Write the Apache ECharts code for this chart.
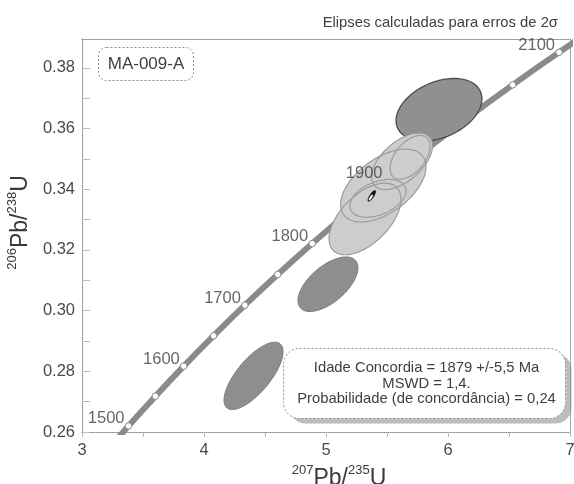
<!DOCTYPE html>
<html>
<head>
<meta charset="utf-8">
<script src="https://cdn.jsdelivr.net/npm/echarts@6/dist/echarts.min.js"></script>
<style>
  html, body { margin: 0; padding: 0; background: #fff; }
  #chart { width: 574px; height: 484px; }
</style>
</head>
<body>
<div id="chart"></div>
<script>
// Concordia curve: age (Ma) and ratio pairs, 50 Ma apart
const concAges = [1450, 1500, 1550, 1600, 1650, 1700, 1750, 1800, 1850, 1900, 1950, 2000, 2050, 2100, 2150];
const concX = [3.170, 3.381, 3.602, 3.834, 4.078, 4.335, 4.604, 4.887, 5.184, 5.496, 5.824, 6.169, 6.530, 6.910, 7.310];
const concY = [0.2522, 0.2620, 0.2718, 0.2817, 0.2917, 0.3018, 0.3119, 0.3221, 0.3324, 0.3428, 0.3532, 0.3638, 0.3744, 0.3851, 0.3959];
const labelledAges = [1500, 1600, 1700, 1800, 1900, 2100];

// Analyses: 207Pb/235U, 2s, 206Pb/238U, 2s, error correlation, tone
const ellX   = [4.406, 5.016, 5.926, 5.320, 5.470, 5.426, 5.623, 5.689];
const ellSx  = [0.242, 0.246, 0.352, 0.295, 0.350, 0.230, 0.250, 0.164];
const ellY   = [0.2785, 0.3087, 0.3662, 0.3302, 0.3412, 0.3370, 0.3492, 0.3505];
const ellSy  = [0.0111, 0.0090, 0.0103, 0.0118, 0.0120, 0.00623, 0.00930, 0.00721];
const ellRho = [0.72, 0.60, 0.35, 0.55, 0.52, 0.40, 0.55, 0.50];
const ellTone = ['dark', 'dark', 'darkEdge', 'light', 'light', 'light', 'light', 'light'];

// Concordia age ellipse
const ageX = 5.375, ageSx = 0.032, ageY = 0.3378, ageSy = 0.0018, ageRho = 0.8;

const xTicks = [3, 3.5, 4, 4.5, 5, 5.5, 6, 6.5, 7];
const xLabels = [3, 4, 5, 6, 7];
const yTicks = [0.26, 0.27, 0.28, 0.29, 0.30, 0.31, 0.32, 0.33, 0.34, 0.35, 0.36, 0.37, 0.38];
const yLabels = [0.26, 0.28, 0.30, 0.32, 0.34, 0.36, 0.38];

const resultLines = [
  'Idade Concordia = 1879 +/-5,5 Ma',
  'MSWD = 1,4.',
  'Probabilidade (de concordância) = 0,24'
];

const FONT = '"Liberation Sans", Arial, sans-serif';
const tones = {
  dark:     { fill: '#8e8e8e', stroke: '#7a7a7a', width: 1 },
  darkEdge: { fill: '#909090', stroke: '#4e4e4e', width: 1.3 },
  light:    { fill: '#cdcdcd', stroke: '#9b9b9b', width: 1.2 }
};

function ellipsePoints(api, cx, sx, cy, sy, rho) {
  const pts = [];
  const k = Math.sqrt(1 - rho * rho);
  const n = 120;
  for (let i = 0; i < n; i++) {
    const t = i / n * Math.PI * 2;
    const c = Math.cos(t), s = Math.sin(t);
    pts.push(api.coord([cx + sx * c, cy + sy * (rho * c + k * s)]));
  }
  return pts;
}

const ellData = ellX.map((x, i) => [x, ellSx[i], ellY[i], ellSy[i], ellRho[i], i]);
const concData = concX.map((x, i) => [x, concY[i]]);
const labelData = labelledAges.map(a => {
  const i = concAges.indexOf(a);
  return { value: [concX[i], concY[i]], name: String(a) };
});

function renderEllipse(pass) {
  return function (params, api) {
    const idx = api.value(5);
    const isLight = ellTone[idx] === 'light';
    if ((pass === 'dark') === isLight) return null;
    const tone = tones[ellTone[idx]];
    const pts = ellipsePoints(api, api.value(0), api.value(1), api.value(2), api.value(3), api.value(4));
    const style = {};
    if (pass === 'dark') {
      style.fill = tone.fill; style.stroke = tone.stroke; style.lineWidth = tone.width;
    } else if (pass === 'lightFill') {
      style.fill = tone.fill; style.stroke = null;
    } else {
      style.fill = null; style.stroke = tone.stroke; style.lineWidth = tone.width;
    }
    return { type: 'polygon', shape: { points: pts }, style: style };
  };
}

const chart = echarts.init(document.getElementById('chart'), null, { renderer: 'canvas' });

const axisLineStyle = { color: '#8c8c8c', width: 1, type: 'dotted' };
const nameRich = {
  sup:  { fontSize: 13, fontFamily: FONT, color: '#3a3a3a', verticalAlign: 'top', lineHeight: 26 },
  main: { fontSize: 23, fontFamily: FONT, color: '#3a3a3a', verticalAlign: 'bottom', lineHeight: 26 }
};

const option = {
  animation: false,
  grid: { left: 82, right: 4, top: 39, bottom: 52, containLabel: false, outerBoundsMode: 'none' },
  xAxis: [{
    type: 'value', min: 3, max: 7, position: 'bottom',
    name: '{sup|207}{main|Pb/}{sup|235}{main|U}',
    nameLocation: 'middle', nameGap: 15,
    nameTextStyle: { rich: nameRich, padding: [0, 0, 0, 26] },
    axisLine: { show: true, lineStyle: axisLineStyle },
    axisTick: { show: true, inside: false, length: 5, customValues: xTicks, lineStyle: { color: '#b5b5b5' } },
    axisLabel: { customValues: xLabels, formatter: v => String(v), fontSize: 16.5, fontFamily: FONT, color: '#4a4a4a', margin: 10 },
    splitLine: { show: false }
  }, {
    type: 'value', min: 3, max: 7, position: 'top',
    axisLine: { show: true, onZero: false, lineStyle: axisLineStyle },
    axisTick: { show: false }, axisLabel: { show: false }, splitLine: { show: false }
  }],
  yAxis: [{
    type: 'value', min: 0.26, max: 0.3895, position: 'left',
    name: '{sup|206}{main|Pb/}{sup|238}{main|U}',
    nameLocation: 'middle', nameGap: 37, nameRotate: 90,
    nameTextStyle: { rich: nameRich, padding: [0, 0, 0, 26] },
    axisLine: { show: true, lineStyle: axisLineStyle },
    axisTick: { show: true, inside: true, length: 8, customValues: yTicks, lineStyle: { color: '#bdbdbd' } },
    axisLabel: { customValues: yLabels, formatter: v => v.toFixed(2), fontSize: 16.5, fontFamily: FONT, color: '#4a4a4a', margin: 7 },
    splitLine: { show: false }
  }, {
    type: 'value', min: 0.26, max: 0.3895, position: 'right',
    axisLine: { show: true, onZero: false, lineStyle: axisLineStyle },
    axisTick: { show: false }, axisLabel: { show: false }, splitLine: { show: false }
  }],
  series: [
    {
      name: 'concordia', type: 'line', data: concData, smooth: 0.3, z: 1,
      clip: true,
      lineStyle: { color: '#8a8a8a', width: 6 },
      symbol: 'circle', symbolSize: 6.5, showSymbol: true,
      itemStyle: { color: '#ffffff', borderColor: '#8a8a8a', borderWidth: 1 },
      emphasis: { disabled: true }
    },
    {
      name: 'ellipsesDark', type: 'custom', data: ellData, z: 2,
      encode: { x: 0, y: 2 }, renderItem: renderEllipse('dark'), silent: true
    },
    {
      name: 'ellipsesLightFill', type: 'custom', data: ellData, z: 3,
      encode: { x: 0, y: 2 }, renderItem: renderEllipse('lightFill'), silent: true
    },
    {
      name: 'ellipsesLightEdge', type: 'custom', data: ellData, z: 4,
      encode: { x: 0, y: 2 }, renderItem: renderEllipse('lightEdge'), silent: true
    },
    {
      name: 'concordiaAge', type: 'custom', data: [[ageX, ageSx, ageY, ageSy, ageRho]], z: 5,
      encode: { x: 0, y: 2 }, silent: true,
      renderItem: function (params, api) {
        const cx = api.value(0), sx = api.value(1), cy = api.value(2), sy = api.value(3), r = api.value(4);
        return {
          type: 'group',
          children: [
            { type: 'polygon', shape: { points: ellipsePoints(api, cx, sx, cy, sy, r) }, style: { fill: '#111', stroke: '#111', lineWidth: 0.5 } },
            { type: 'polygon', shape: { points: ellipsePoints(api, cx - sx * 0.25, sx * 0.55, cy - sy * 0.3, sy * 0.55, r) }, style: { fill: '#fff' } }
          ]
        };
      }
    },
    {
      name: 'ageLabels', type: 'scatter', data: labelData, z: 6, symbolSize: 0, silent: true,
      label: {
        show: true, position: 'left', distance: 4, offset: [0, -7],
        formatter: p => p.name, fontSize: 16.5, fontFamily: FONT, color: '#3f3f3f'
      }
    }
  ],
  graphic: [
    {
      type: 'text', right: 16, top: 15,
      style: { text: 'Elipses calculadas para erros de 2σ', font: '14.8px ' + FONT, fill: '#3f3f3f' }
    },
    {
      type: 'group', left: 98, top: 47,
      children: [
        { type: 'rect', shape: { x: 0, y: 0, width: 95, height: 33, r: 8 }, style: { fill: '#fff', stroke: '#8c8c8c', lineWidth: 1, lineDash: [2, 2] } },
        { type: 'text', x: 47.5, y: 17, style: { text: 'MA-009-A', font: '17px ' + FONT, fill: '#3f3f3f', align: 'center', verticalAlign: 'middle' } }
      ]
    },
    {
      type: 'group', left: 283, top: 348,
      children: [
        { type: 'rect', shape: { x: 6, y: 5, width: 282, height: 70, r: 16 }, style: { fill: '#bdbdbd' } },
        { type: 'rect', shape: { x: 0, y: 0, width: 282, height: 70, r: 16 }, style: { fill: '#fff', stroke: '#8c8c8c', lineWidth: 1, lineDash: [2, 2] } },
        { type: 'text', x: 143, y: 19.5, style: { text: resultLines[0], font: '14.8px ' + FONT, fill: '#3f3f3f', align: 'center', verticalAlign: 'middle' } },
        { type: 'text', x: 143, y: 35, style: { text: resultLines[1], font: '14.8px ' + FONT, fill: '#3f3f3f', align: 'center', verticalAlign: 'middle' } },
        { type: 'text', x: 143, y: 50.5, style: { text: resultLines[2], font: '14.8px ' + FONT, fill: '#3f3f3f', align: 'center', verticalAlign: 'middle' } }
      ]
    }
  ]
};

chart.setOption(option);
</script>
</body>
</html>
